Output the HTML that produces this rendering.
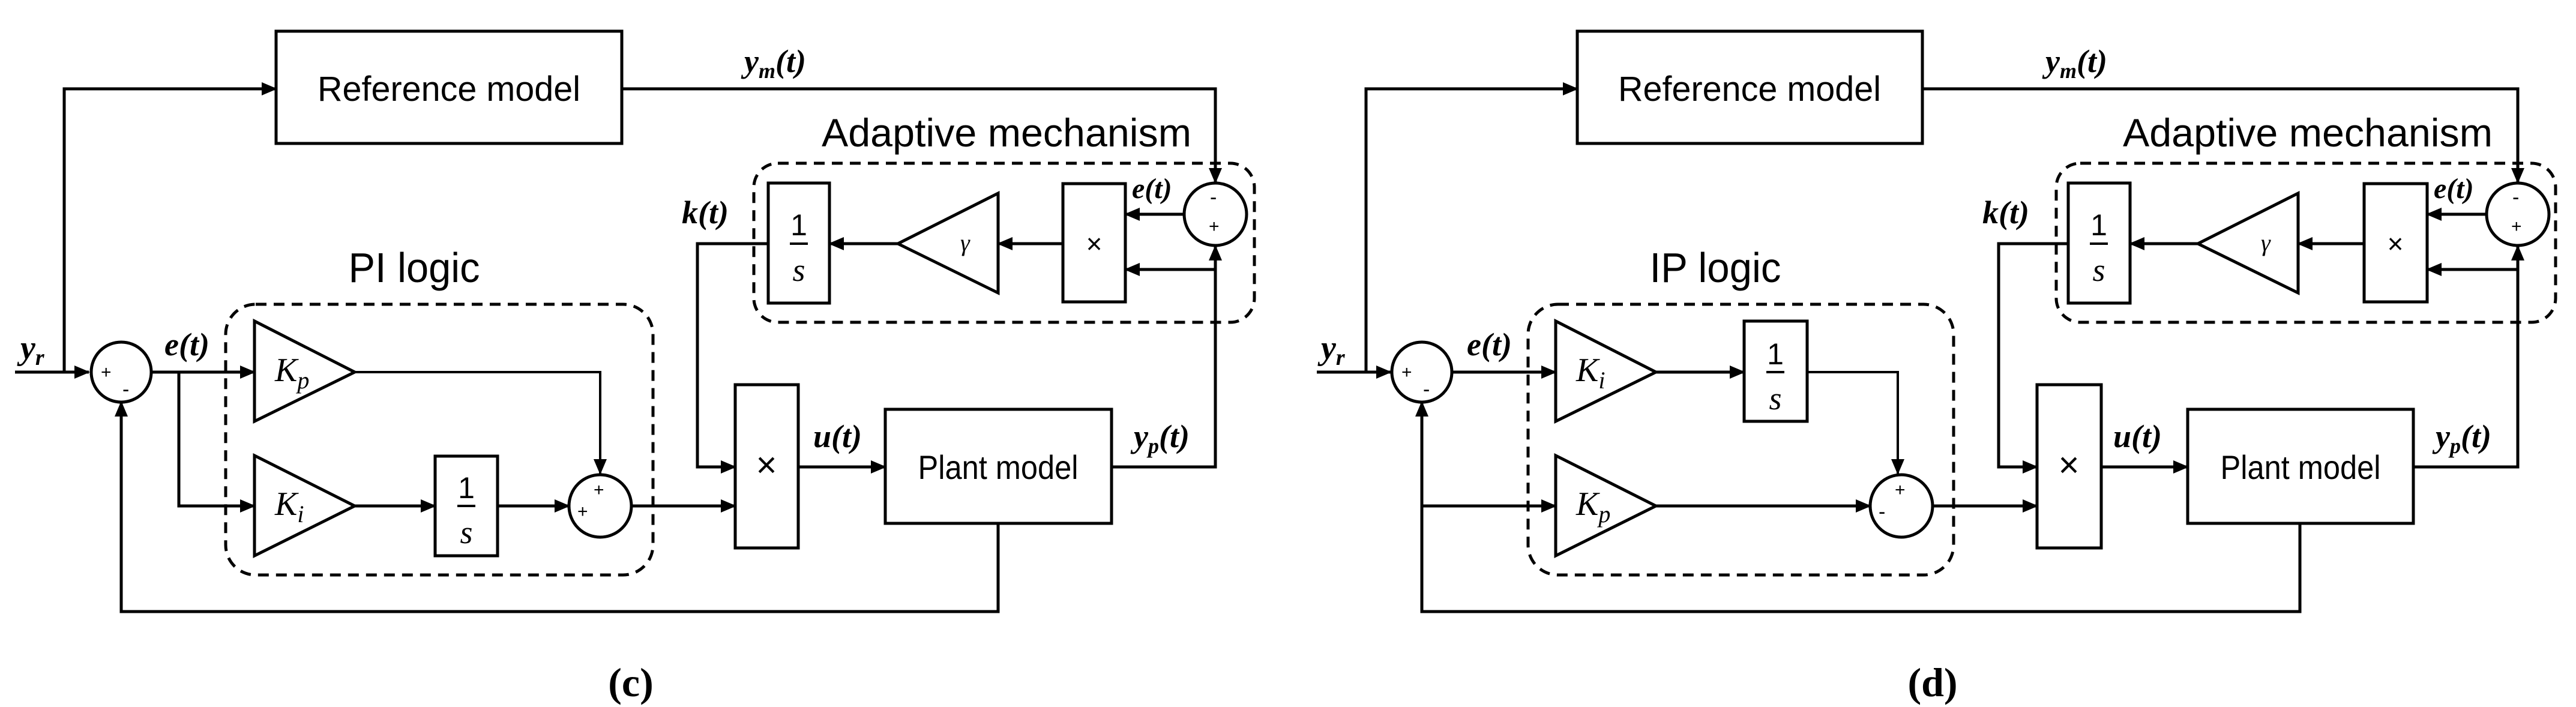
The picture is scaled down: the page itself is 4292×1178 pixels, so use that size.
<!DOCTYPE html>
<html><head><meta charset="utf-8"><style>
html,body{margin:0;padding:0;background:#fff}
svg{display:block}
.s{font-family:"Liberation Sans",sans-serif}
.m{font-family:"Liberation Serif",serif;font-style:italic;font-weight:bold}
.k{font-family:"Liberation Serif",serif;font-style:italic}
</style></head><body>
<svg width="4292" height="1178" viewBox="0 0 4292 1178" xmlns="http://www.w3.org/2000/svg">
<defs>
<marker id="a" markerUnits="userSpaceOnUse" markerWidth="26" markerHeight="22" refX="24" refY="11" orient="auto">
<path d="M0,0 L26,11 L0,22 Z" fill="#000"/></marker>
</defs>
<g fill="none" stroke="#000" stroke-width="5">
<!-- panel c -->
<path d="M25 620 H148" marker-end="url(#a)"/>
<path d="M107 620 V148 H460" marker-end="url(#a)"/>
<circle cx="202" cy="620" r="50"/>
<path d="M252 620 H424" marker-end="url(#a)"/>
<path d="M298 620 V843 H424" marker-end="url(#a)"/>
<polygon points="424,535 424,702 591,620"/>
<polygon points="424,759 424,926 591,843"/>
<path d="M591 620 H1000 V789" marker-end="url(#a)" stroke-width="4"/>
<path d="M591 843 H725" marker-end="url(#a)"/>
<rect x="725" y="760" width="104" height="166"/>
<path d="M829 843 H948" marker-end="url(#a)"/>
<circle cx="1000" cy="843" r="52"/>
<path d="M1052 843 H1225" marker-end="url(#a)"/>
<rect x="1225" y="641" width="105" height="272"/>
<path d="M1280 406 H1162 V778 H1225" marker-end="url(#a)"/>
<path d="M1330 778 H1475" marker-end="url(#a)"/>
<rect x="1475" y="682" width="377" height="190"/>
<path d="M1852 778 H2025 V410" marker-end="url(#a)"/>
<path d="M2025 449 H1875" marker-end="url(#a)"/>
<path d="M1663 872 V1019 H202 V670" marker-end="url(#a)"/>
<rect x="460" y="52" width="576" height="187"/>
<path d="M1036 148 H2025 V304" marker-end="url(#a)"/>
<circle cx="2025" cy="357" r="52"/>
<path d="M1973 357 H1875" marker-end="url(#a)"/>
<rect x="1771" y="306" width="104" height="197"/>
<path d="M1771 406 H1663" marker-end="url(#a)"/>
<polygon points="1663,322 1663,488 1496,406"/>
<path d="M1496 406 H1382" marker-end="url(#a)"/>
<rect x="1280" y="305" width="102" height="200"/>
<rect x="1256" y="272" width="834" height="265" rx="40" stroke-dasharray="18 12"/>
<rect x="376" y="507" width="712" height="451" rx="50" stroke-dasharray="18 12"/>
<!-- panel d -->
<path d="M2194 620 H2317" marker-end="url(#a)"/>
<path d="M2276 620 V148 H2628" marker-end="url(#a)"/>
<circle cx="2369" cy="620" r="50"/>
<path d="M2419 620 H2592" marker-end="url(#a)"/>
<polygon points="2592,535 2592,702 2759,620"/>
<path d="M2759 620 H2906" marker-end="url(#a)"/>
<rect x="2906" y="535" width="105" height="167"/>
<path d="M3011 620 H3162 V789" marker-end="url(#a)" stroke-width="4"/>
<polygon points="2592,759 2592,926 2759,843"/>
<path d="M2369 843 H2592" marker-end="url(#a)"/>
<path d="M2759 843 H3116" marker-end="url(#a)"/>
<circle cx="3168" cy="843" r="52"/>
<path d="M3220 843 H3394" marker-end="url(#a)"/>
<rect x="3394" y="641" width="107" height="272"/>
<path d="M3446 406 H3330 V778 H3394" marker-end="url(#a)"/>
<path d="M3501 778 H3645" marker-end="url(#a)"/>
<rect x="3645" y="682" width="376" height="190"/>
<path d="M4021 778 H4195 V410" marker-end="url(#a)"/>
<path d="M4195 449 H4044" marker-end="url(#a)"/>
<path d="M3832 872 V1019 H2369 V670" marker-end="url(#a)"/>
<rect x="2628" y="52" width="575" height="187"/>
<path d="M3203 148 H4195 V304" marker-end="url(#a)"/>
<circle cx="4195" cy="357" r="52"/>
<path d="M4143 357 H4044" marker-end="url(#a)"/>
<rect x="3939" y="306" width="105" height="197"/>
<path d="M3939 406 H3829" marker-end="url(#a)"/>
<polygon points="3829,322 3829,488 3662,406"/>
<path d="M3662 406 H3549" marker-end="url(#a)"/>
<rect x="3446" y="305" width="103" height="200"/>
<rect x="3426" y="272" width="832" height="265" rx="40" stroke-dasharray="18 12"/>
<rect x="2546" y="507" width="709" height="451" rx="50" stroke-dasharray="18 12"/>
<!-- 1/s bars -->
<path d="M762 843 H792 M1316 406 H1346 M2943 620 H2973 M3482 406 H3512" stroke-width="4"/>
</g>
<g fill="#000">
<!-- panel c text -->
<text class="s" x="748" y="168" font-size="58" text-anchor="middle" textLength="438" lengthAdjust="spacingAndGlyphs">Reference model</text>
<text class="s" x="1663" y="798" font-size="56" text-anchor="middle" textLength="267" lengthAdjust="spacingAndGlyphs">Plant model</text>
<text class="s" x="1677" y="244" font-size="66" text-anchor="middle" textLength="616" lengthAdjust="spacingAndGlyphs">Adaptive mechanism</text>
<text class="s" x="690" y="470" font-size="70" text-anchor="middle" textLength="219" lengthAdjust="spacingAndGlyphs">PI logic</text>
<text class="m" x="34" y="598" font-size="56">y<tspan font-size="38" dy="10">r</tspan></text>
<text class="m" x="274" y="592" font-size="54">e(t)</text>
<text class="m" x="1136" y="372" font-size="54">k(t)</text>
<text class="m" x="1355" y="745" font-size="54">u(t)</text>
<text class="m" x="1889" y="745" font-size="54">y<tspan font-size="36" dy="10">p</tspan><tspan dy="-10">(t)</tspan></text>
<text class="m" x="1240" y="120" font-size="54">y<tspan font-size="36" dy="10">m</tspan><tspan dy="-10">(t)</tspan></text>
<text class="m" x="1886" y="330" font-size="48">e(t)</text>
<text class="k" x="458" y="635" font-size="56">K<tspan font-size="40" dy="12">p</tspan></text>
<text class="k" x="458" y="858" font-size="56">K<tspan font-size="40" dy="12">i</tspan></text>
<text class="k" x="1600" y="418" font-size="40">γ</text>
<text class="s" x="777" y="830" font-size="50" text-anchor="middle">1</text>
<text class="k" x="777" y="905" font-size="54" text-anchor="middle">s</text>
<text class="s" x="1331" y="392" font-size="50" text-anchor="middle">1</text>
<text class="k" x="1331" y="468" font-size="54" text-anchor="middle">s</text>
<text class="s" x="1277" y="795" font-size="60" text-anchor="middle">×</text>
<text class="s" x="1823" y="422" font-size="46" text-anchor="middle">×</text>
<text class="s" x="168" y="630" font-size="30">+</text>
<text class="s" x="204" y="660" font-size="34">-</text>
<text class="s" x="989" y="826" font-size="30">+</text>
<text class="s" x="962" y="862" font-size="30">+</text>
<text class="s" x="2016" y="340" font-size="34">-</text>
<text class="s" x="2014" y="387" font-size="30">+</text>
<text x="1051" y="1160" font-family="Liberation Serif,serif" font-weight="bold" font-size="68" text-anchor="middle">(c)</text>
<!-- panel d text -->
<text class="s" x="2915" y="168" font-size="58" text-anchor="middle" textLength="438" lengthAdjust="spacingAndGlyphs">Reference model</text>
<text class="s" x="3833" y="798" font-size="56" text-anchor="middle" textLength="267" lengthAdjust="spacingAndGlyphs">Plant model</text>
<text class="s" x="3845" y="244" font-size="66" text-anchor="middle" textLength="616" lengthAdjust="spacingAndGlyphs">Adaptive mechanism</text>
<text class="s" x="2858" y="470" font-size="70" text-anchor="middle" textLength="219" lengthAdjust="spacingAndGlyphs">IP logic</text>
<text class="m" x="2201" y="598" font-size="56">y<tspan font-size="38" dy="10">r</tspan></text>
<text class="m" x="2444" y="592" font-size="54">e(t)</text>
<text class="m" x="3303" y="372" font-size="54">k(t)</text>
<text class="m" x="3521" y="745" font-size="54">u(t)</text>
<text class="m" x="4058" y="745" font-size="54">y<tspan font-size="36" dy="10">p</tspan><tspan dy="-10">(t)</tspan></text>
<text class="m" x="3408" y="120" font-size="54">y<tspan font-size="36" dy="10">m</tspan><tspan dy="-10">(t)</tspan></text>
<text class="m" x="4055" y="330" font-size="48">e(t)</text>
<text class="k" x="2626" y="635" font-size="56">K<tspan font-size="40" dy="12">i</tspan></text>
<text class="k" x="2626" y="858" font-size="56">K<tspan font-size="40" dy="12">p</tspan></text>
<text class="k" x="3767" y="418" font-size="40">γ</text>
<text class="s" x="2958" y="607" font-size="50" text-anchor="middle">1</text>
<text class="k" x="2958" y="682" font-size="54" text-anchor="middle">s</text>
<text class="s" x="3497" y="392" font-size="50" text-anchor="middle">1</text>
<text class="k" x="3497" y="468" font-size="54" text-anchor="middle">s</text>
<text class="s" x="3447" y="795" font-size="60" text-anchor="middle">×</text>
<text class="s" x="3991" y="422" font-size="46" text-anchor="middle">×</text>
<text class="s" x="2335" y="630" font-size="30">+</text>
<text class="s" x="2371" y="660" font-size="34">-</text>
<text class="s" x="3157" y="826" font-size="30">+</text>
<text class="s" x="3130" y="864" font-size="34">-</text>
<text class="s" x="4186" y="340" font-size="34">-</text>
<text class="s" x="4184" y="387" font-size="30">+</text>
<text x="3220" y="1160" font-family="Liberation Serif,serif" font-weight="bold" font-size="68" text-anchor="middle">(d)</text>
</g>
</svg>
</body></html>
